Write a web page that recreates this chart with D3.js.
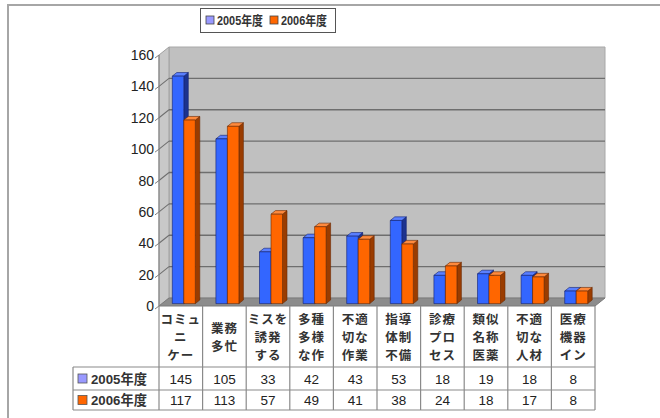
<!DOCTYPE html>
<html>
<head>
<meta charset="utf-8">
<script src="https://cdn.jsdelivr.net/npm/d3@7"></script>
<style>
  html, body { margin: 0; padding: 0; background: #fff; }
  svg { display: block; }
  text { font-family: "Liberation Sans", "Noto Sans CJK JP", sans-serif; }
</style>
</head>
<body>
<svg id="chart" width="660" height="418"></svg>
<script>
// Categories (multi-line labels), series and axis ticks
const categories = [
  "コミュ\nニ\nケー", "業務\n多忙", "ミスを\n誘発\nする", "多種\n多様\nな作",
  "不適\n切な\n作業", "指導\n体制\n不備", "診療\nプロ\nセス", "類似\n名称\n医薬",
  "不適\n切な\n人材", "医療\n機器\nイン"
];
const seriesNames = ["2005年度", "2006年度"];
const values2005 = [145, 105, 33, 42, 43, 53, 18, 19, 18, 8];
const values2006 = [117, 113, 57, 49, 41, 38, 24, 18, 17, 8];
const yTicks = [0, 20, 40, 60, 80, 100, 120, 140, 160];

const series = [values2005, values2006];
const frontColors = ["#3366ff", "#ff6600"];
const topColors = ["#5a80ff", "#ff8a3d"];
const sideColors = ["#1c338f", "#9a3c00"];
const edgeColors = ["#102070", "#6a2800"];
const legendColors = ["#9999ff", "#ff6600"];

const svg = d3.select("#chart");

// Outer chart frame
svg.append("path")
  .attr("d", "M8,420 L8,5 L662,5")
  .attr("fill", "none").attr("stroke", "#a6a6a6").attr("stroke-width", 2);

// 3D geometry: the front plane plus a depth offset
const DX = 10, DY = -8;
const x = d3.scaleBand().domain(d3.range(categories.length)).range([159, 595]);
const y = d3.scaleLinear().domain([0, 160]).range([306, 55]);
const off = (px, py, d) => [px + DX * d, py + DY * d];
const poly = pts => "M" + pts.map(p => p.join(",")).join("L") + "Z";

const x0 = x.range()[0], x1 = x.range()[1];
const yBase = y(0), yTop = y(160);

// Back wall
svg.append("path")
  .attr("d", poly([off(x0, yTop, 1), off(x1, yTop, 1), off(x1, yBase, 1), off(x0, yBase, 1)]))
  .attr("fill", "#c0c0c0").attr("stroke", "#a8a8a8").attr("stroke-width", 1);
// Side wall
svg.append("path")
  .attr("d", poly([[x0, yTop], off(x0, yTop, 1), off(x0, yBase, 1), [x0, yBase]]))
  .attr("fill", "#c8c8c8").attr("stroke", "#a0a0a0").attr("stroke-width", 1);

// Gridlines on back and side walls
yTicks.filter(t => t > 0 && t < 160).forEach(t => {
  const yy = y(t);
  const b0 = off(x0, yy, 1), b1 = off(x1, yy, 1);
  svg.append("line").attr("x1", b0[0]).attr("y1", b0[1]).attr("x2", b1[0]).attr("y2", b1[1])
    .attr("stroke", "#6e6e6e").attr("stroke-width", 1.3);
  svg.append("line").attr("x1", x0).attr("y1", yy).attr("x2", b0[0]).attr("y2", b0[1])
    .attr("stroke", "#6e6e6e").attr("stroke-width", 1.1);
});

// Floor
svg.append("path")
  .attr("d", poly([[x0, yBase], [x1, yBase], off(x1, yBase, 1), off(x0, yBase, 1)]))
  .attr("fill", "#8c8c8c").attr("stroke", "#7a7a7a").attr("stroke-width", 1);

// Value axis line, ticks and labels
svg.append("line").attr("x1", x0).attr("y1", yTop).attr("x2", x0).attr("y2", yBase)
  .attr("stroke", "#808080").attr("stroke-width", 1);
yTicks.forEach(t => {
  const yy = y(t);
  svg.append("line").attr("x1", x0 - 4).attr("y1", yy + 3).attr("x2", x0).attr("y2", yy)
    .attr("stroke", "#808080").attr("stroke-width", 1);
  svg.append("text").attr("x", x0 - 5).attr("y", yy + 5)
    .attr("text-anchor", "end").attr("font-size", 14).attr("fill", "#222")
    .text(t);
});

// 3D bars
const barW = 11.5, dFront = 0.3, dBack = 0.75;
categories.forEach((c, i) => {
  const cx = x(i) + x.bandwidth() / 2;
  series.forEach((vals, s) => {
    const left = cx - barW + s * barW;
    const right = left + barW;
    const yv = y(vals[i]);
    const fBL = off(left, yBase, dFront), fBR = off(right, yBase, dFront);
    const fTL = off(left, yv, dFront), fTR = off(right, yv, dFront);
    const bTL = off(left, yv, dBack), bTR = off(right, yv, dBack), bBR = off(right, yBase, dBack);
    // side face
    svg.append("path").attr("d", poly([fTR, bTR, bBR, fBR]))
      .attr("fill", sideColors[s]).attr("stroke", edgeColors[s]).attr("stroke-width", 0.6);
    // top face
    svg.append("path").attr("d", poly([fTL, fTR, bTR, bTL]))
      .attr("fill", topColors[s]).attr("stroke", edgeColors[s]).attr("stroke-width", 0.6);
    // front face
    svg.append("path").attr("d", poly([fTL, fTR, fBR, fBL]))
      .attr("fill", frontColors[s]).attr("stroke", edgeColors[s]).attr("stroke-width", 0.6);
  });
});

// Data table below the plot
const tLeft = 73, hTop = 306, r1 = 367, r2 = 390, r3 = 410;
const grid = svg.append("g").attr("stroke", "#8a8a8a").attr("stroke-width", 1.2);
grid.append("line").attr("x1", x0).attr("y1", hTop).attr("x2", x0).attr("y2", r3);
categories.forEach((c, i) => {
  const xr = x(i) + x.bandwidth();
  grid.append("line").attr("x1", xr).attr("y1", hTop).attr("x2", xr).attr("y2", r3);
});
[r1, r2, r3].forEach(yy => {
  grid.append("line").attr("x1", tLeft).attr("y1", yy).attr("x2", x1).attr("y2", yy);
});
grid.append("line").attr("x1", tLeft).attr("y1", r1).attr("x2", tLeft).attr("y2", r3);

// Category labels in the header row
categories.forEach((c, i) => {
  const lines = c.split("\n");
  const cx = x(i) + x.bandwidth() / 2;
  const mid = (hTop + r1) / 2;
  const lh = 18;
  lines.forEach((ln, k) => {
    svg.append("text")
      .attr("x", cx).attr("y", mid + (k - (lines.length - 1) / 2) * lh + 5)
      .attr("text-anchor", "middle").attr("font-size", 12.5).attr("font-weight", "bold")
      .attr("letter-spacing", 1).attr("fill", "#333")
      .text(ln);
  });
});

// Series rows: legend key, name and values
[[r1, r2], [r2, r3]].forEach(([ya, yb], s) => {
  const mid = (ya + yb) / 2;
  svg.append("rect").attr("x", 78).attr("y", mid - 4.5).attr("width", 9).attr("height", 9)
    .attr("fill", legendColors[s]).attr("stroke", "#555").attr("stroke-width", 0.8);
  svg.append("text").attr("x", 91).attr("y", mid + 5)
    .attr("font-size", 13.5).attr("font-weight", "bold").attr("fill", "#333")
    .attr("textLength", 56).attr("lengthAdjust", "spacingAndGlyphs")
    .text(seriesNames[s]);
  series[s].forEach((v, i) => {
    svg.append("text").attr("x", x(i) + x.bandwidth() / 2).attr("y", mid + 5)
      .attr("text-anchor", "middle").attr("font-size", 13.5).attr("fill", "#222")
      .text(v);
  });
});

// Legend
const lg = svg.append("g");
lg.append("rect").attr("x", 200.5).attr("y", 8.5).attr("width", 135).attr("height", 24)
  .attr("fill", "#fff").attr("stroke", "#555").attr("stroke-width", 1);
seriesNames.forEach((n, s) => {
  const lx = 206 + s * 64;
  lg.append("rect").attr("x", lx).attr("y", 16).attr("width", 8).attr("height", 8)
    .attr("fill", legendColors[s]).attr("stroke", "#444").attr("stroke-width", 0.8);
  lg.append("text").attr("x", lx + 11).attr("y", 25)
    .attr("font-size", 13).attr("font-weight", "bold").attr("fill", "#333")
    .attr("textLength", 46).attr("lengthAdjust", "spacingAndGlyphs")
    .text(n);
});
</script>
</body>
</html>
